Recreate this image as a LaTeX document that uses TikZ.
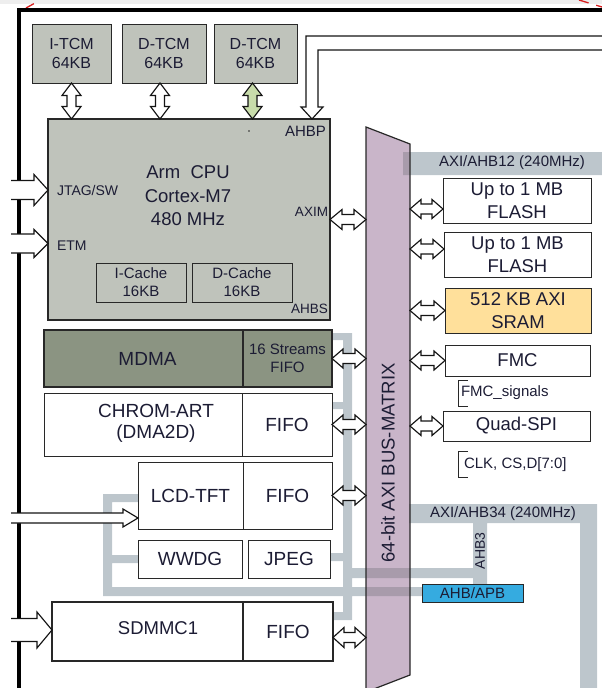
\documentclass[tikz,border=0pt]{standalone}
\usepackage{fontspec}
\setmainfont{Liberation Sans}
\usetikzlibrary{calc}
\definecolor{txtc}{RGB}{28,28,52}
\definecolor{bordc}{RGB}{40,40,40}
\definecolor{arrc}{RGB}{20,20,20}
\definecolor{cpuc}{RGB}{191,195,187}
\definecolor{mdmac}{RGB}{139,148,130}
\definecolor{sramc}{RGB}{255,224,155}
\definecolor{mtxc}{RGB}{201,181,201}
\definecolor{busc}{RGB}{189,198,204}
\definecolor{busdk}{RGB}{168,155,171}
\definecolor{apbc}{RGB}{53,171,224}
\definecolor{grnc}{RGB}{200,220,170}
\definecolor{redc}{RGB}{215,30,30}
\definecolor{topc}{RGB}{238,238,238}
\tikzset{
 bx/.style={draw=bordc, line width=1pt, inner sep=0pt, outer sep=0pt, text=txtc, align=center},
 lbl/.style={inner sep=0pt, outer sep=0pt, text=txtc, align=center},
 fXL/.style={font=\fontsize{19}{21}\selectfont},
 fL/.style={font=\fontsize{18.5}{23.5}\selectfont},
 fM/.style={font=\fontsize{16}{19}\selectfont},
 fS/.style={font=\fontsize{15}{18}\selectfont},
 fXS/.style={font=\fontsize{14}{17}\selectfont},
 busp/.style={insert path={(403,152) rectangle (602,175) (409,504) rectangle (597,523)
   (580,504) rectangle (597,690) (473,504) rectangle (487,584) (347,568) rectangle (487,578)
   (103,587) rectangle (422,596) (343,333) rectangle (352,620) (332,333) rectangle (352,340)
   (332,402) rectangle (347,409) (330,553) rectangle (347,561) (333,612) rectangle (347,620)
   (103,494) rectangle (112,596) (103,494) rectangle (138,502) (103,555) rectangle (138,563)}},
 dblH/.style n args={3}{draw=arrc, fill=white, line width=1.15pt, line join=miter,
   to path={let \p1=(\tikztostart), \p2=(\tikztotarget) in
   (\x1,\y1) -- ({\x1+#3pt},{\y1+#1pt}) -- ({\x1+#3pt},{\y1+#2pt}) -- ({\x2-#3pt},{\y1+#2pt})
   -- ({\x2-#3pt},{\y1+#1pt}) -- (\x2,\y1) -- ({\x2-#3pt},{\y1-#1pt}) -- ({\x2-#3pt},{\y1-#2pt})
   -- ({\x1+#3pt},{\y1-#2pt}) -- ({\x1+#3pt},{\y1-#1pt}) -- cycle}},
 dblV/.style n args={3}{draw=arrc, fill=white, line width=1.15pt, line join=miter,
   to path={let \p1=(\tikztostart), \p2=(\tikztotarget) in
   (\x1,\y1) -- ({\x1-#1pt},{\y1-#3pt}) -- ({\x1-#2pt},{\y1-#3pt}) -- ({\x1-#2pt},{\y2+#3pt})
   -- ({\x1-#1pt},{\y2+#3pt}) -- (\x1,\y2) -- ({\x1+#1pt},{\y2+#3pt}) -- ({\x1+#2pt},{\y2+#3pt})
   -- ({\x1+#2pt},{\y1-#3pt}) -- ({\x1+#1pt},{\y1-#3pt}) -- cycle}},
 sglH/.style n args={3}{draw=arrc, fill=white, line width=1.15pt, line join=miter,
   to path={let \p1=(\tikztostart), \p2=(\tikztotarget) in
   (\x1,{\y1+#2pt}) -- ({\x2-#3pt},{\y1+#2pt}) -- ({\x2-#3pt},{\y1+#1pt}) -- (\x2,\y1)
   -- ({\x2-#3pt},{\y1-#1pt}) -- ({\x2-#3pt},{\y1-#2pt}) -- (\x1,{\y1-#2pt})}},
}
\begin{document}
\begin{tikzpicture}[x=1pt,y=-1pt]
\useasboundingbox (0,0) rectangle (602,688);
\fill[topc] (0,0) rectangle (602,3.5);
\draw[redc, line width=1.3pt, dash pattern=on 9pt off 6pt] (26,8) -- (36,2.5);
\draw[redc, line width=1.3pt, dash pattern=on 10pt off 8pt] (579,0) -- (602,7);
% outer frame
\draw[black, line width=3.6pt] (18.7,690) -- (18.7,10) -- (604,10);
% buses
\fill[busc, busp];
% bus matrix
\coordinate (mTL) at (366,127);
\coordinate (mTR) at (410,144);
\coordinate (mBR) at (410,675);
\coordinate (mBL) at (366,692);
\coordinate (mxl) at (366,0);
\coordinate (mxr) at (410,0);
\fill[mtxc] (mTL) -- (mTR) -- (mBR) -- (mBL) -- cycle;
\begin{scope}
\clip (mTL) -- (mTR) -- (mBR) -- (mBL) -- cycle;
\fill[busdk, busp];
\end{scope}
\draw[bordc, line width=1.2pt] (mTL) -- (mTR) -- (mBR) -- (mBL) -- cycle;
\node[lbl, fL, rotate=90] (mtxt) at (388,463) {64-bit AXI BUS-MATRIX};
% bus labels
\node[lbl, fS] (ahb12) at (512,163) {AXI/AHB12 (240MHz)};
\node[lbl, fS] (ahb34) at (503,514) {AXI/AHB34 (240MHz)};
\node[lbl, fXS, rotate=90] (ahb3) at (480,551) {AHB3};
\node[bx, fill=apbc, minimum width=101pt, minimum height=18pt, fS] (apb) at (472.5,593) {AHB/APB};
% TCMs
\node[bx, fill=cpuc, fM, minimum width=79pt, minimum height=59pt] (itcm) at (71.5,53.5) {I-TCM\\64KB};
\node[bx, fill=cpuc, fM, minimum width=84pt, minimum height=59pt] (dtcma) at (164,53.5) {D-TCM\\64KB};
\node[bx, fill=cpuc, fM, minimum width=83pt, minimum height=59pt] (dtcmb) at (255.5,53.5) {D-TCM\\64KB};
% CPU
\node[bx, fill=cpuc, line width=1.6pt, minimum width=282pt, minimum height=201pt] (cpu) at (189,219.5) {};
\node[lbl, fL] (cpux) at (188,196) {Arm~ CPU\\Cortex-M7\\480 MHz};
\node[lbl, fS, anchor=east] (ahbp) at (326,131) {AHBP};
\fill[bordc] (249,131) circle (0.8pt);
\node[lbl, fXS, anchor=west] (jtag) at (57,190) {JTAG/SW};
\node[lbl, fXS, anchor=west] (etm) at (57,246) {ETM};
\node[lbl, font=\fontsize{13.5}{16}\selectfont, anchor=east] (axim) at (328,212) {AXIM};
\node[lbl, font=\fontsize{13.5}{16}\selectfont, anchor=east] (ahbs) at (328,309) {AHBS};
\node[bx, fS, minimum width=90pt, minimum height=39pt] (icache) at (141,282.5) {I-Cache\\16KB};
\node[bx, fS, minimum width=100pt, minimum height=39pt] (dcache) at (242,282.5) {D-Cache\\16KB};
% right memories
\node[bx, fill=white, fL, minimum width=148pt, minimum height=45pt] (fl1) at (517,200.5) {Up to 1 MB\\FLASH};
\node[bx, fill=white, fL, minimum width=147pt, minimum height=45pt] (fl2) at (517.5,254.5) {Up to 1 MB\\FLASH};
\node[bx, fill=sramc, fL, minimum width=146pt, minimum height=45pt] (sram) at (518,310.5) {512 KB AXI\\SRAM};
\node[bx, fill=white, fL, minimum width=145pt, minimum height=31pt] (fmc) at (517.5,360.5) {FMC};
\node[bx, fill=white, fL, minimum width=147pt, minimum height=30pt] (qspi) at (516.5,426) {Quad-SPI};
\draw[bordc, line width=1pt] (468,380) -- (458,380) -- (458,406) -- (468,406);
\node[lbl, fS, anchor=west] (fmcs) at (461,393) {FMC\_signals};
\draw[bordc, line width=1pt] (468,451) -- (458,451) -- (458,477) -- (468,477);
\node[lbl, fS, anchor=west] (clk) at (464,465) {CLK, CS,D[7:0]};
% left blocks
\node[bx, fill=mdmac, line width=1.3pt, fXL, minimum width=199pt, minimum height=57pt] (mdmaL) at (143.5,358.5) {\hspace*{8pt}MDMA};
\node[bx, fill=mdmac, line width=1.3pt, fS, minimum width=89pt, minimum height=57pt] (mdmaR) at (287.5,358.5) {16 Streams\\FIFO};
\node[bx, fill=white, minimum width=198pt, minimum height=63pt] (chL) at (143,424.5) {};
\node[lbl, fXL] (cht) at (156,423.5) {CHROM-ART\\(DMA2D)};
\node[bx, fill=white, fXL, minimum width=90pt, minimum height=63pt] (chR) at (287,424.5) {FIFO};
\node[bx, fill=white, fXL, minimum width=105pt, minimum height=67pt] (lcdL) at (190.5,495.5) {LCD-TFT};
\node[bx, fill=white, fXL, minimum width=89pt, minimum height=67pt] (lcdR) at (287.5,495.5) {FIFO};
\node[bx, fill=white, fXL, minimum width=104pt, minimum height=38pt] (wwdg) at (190,559) {WWDG};
\node[bx, fill=white, fXL, minimum width=82pt, minimum height=38pt] (jpeg) at (289,559) {JPEG};
\node[bx, fill=white, line width=1.8pt, minimum width=191pt, minimum height=59pt] (sdL) at (147.5,631.5) {};
\node[lbl, fL] (sdt) at (158,628.5) {SDMMC1};
\node[bx, fill=white, line width=1.8pt, fXL, minimum width=90pt, minimum height=59pt] (sdR) at (288,631.5) {FIFO};
% TCM arrows
\coordinate (b1) at ([xshift=-4pt]dtcma.south);
\coordinate (b2) at ([xshift=-3pt]dtcmb.south);
\draw[dblV={9.5}{4.5}{12.5}] (itcm.south) to (itcm.south |- cpu.north);
\draw[dblV={9.5}{4.5}{12.5}] (b1) to (b1 |- cpu.north);
\draw[dblV={9.5}{4.5}{12.5}, fill=grnc] (b2) to (b2 |- cpu.north);
% AHBP arrow
\coordinate (ahbpT) at (312,119);
\draw[arrc, fill=white, line width=1.15pt, line join=miter] (604,36) -- (306,36) -- (306,107) -- (301,107) -- (ahbpT) -- (323,107) -- (318,107) -- (318,50) -- (604,50);
% input arrows
\coordinate (jin) at (11,190);
\coordinate (ein) at (11,243.5);
\coordinate (lin) at (11,518);
\coordinate (sin) at (11,630);
\draw[sglH={15.5}{9.5}{14}] (jin) to (jin -| cpu.west);
\draw[sglH={14}{9.5}{14}] (ein) to (ein -| cpu.west);
\draw[sglH={9}{5}{15}] (lin) to (lin -| lcdL.west);
\draw[sglH={18}{11.5}{15}] (sin) to (sin -| sdL.west);
% bus matrix double arrows
\draw[dblH={10}{5}{12}] (cpu.east) to (cpu.east -| mxl);
\coordinate (a1) at ([yshift=-8.5pt]fl1.west);
\coordinate (a2) at ([yshift=5.5pt]fl2.west);
\draw[dblH={9.5}{5}{11}] (a1 -| mxr) to (a1);
\draw[dblH={9.5}{5}{11}] (a2 -| mxr) to (a2);
\draw[dblH={9.5}{5}{11}] (sram.west -| mxr) to (sram.west);
\draw[dblH={9.5}{5}{11}] (fmc.west -| mxr) to (fmc.west);
\draw[dblH={9.5}{5}{11}] (qspi.west -| mxr) to (qspi.west);
\draw[dblH={9.5}{5}{11}] (mdmaR.east) to (mdmaR.east -| mxl);
\draw[dblH={9.5}{5}{11}] (chR.east) to (chR.east -| mxl);
\draw[dblH={9.5}{5}{11}] (lcdR.east) to (lcdR.east -| mxl);
\coordinate (a3) at ([yshift=-6pt]sdR.east);
\draw[dblH={10}{5}{11}] (a3) to (a3 -| mxl);
\end{tikzpicture}
\end{document}
